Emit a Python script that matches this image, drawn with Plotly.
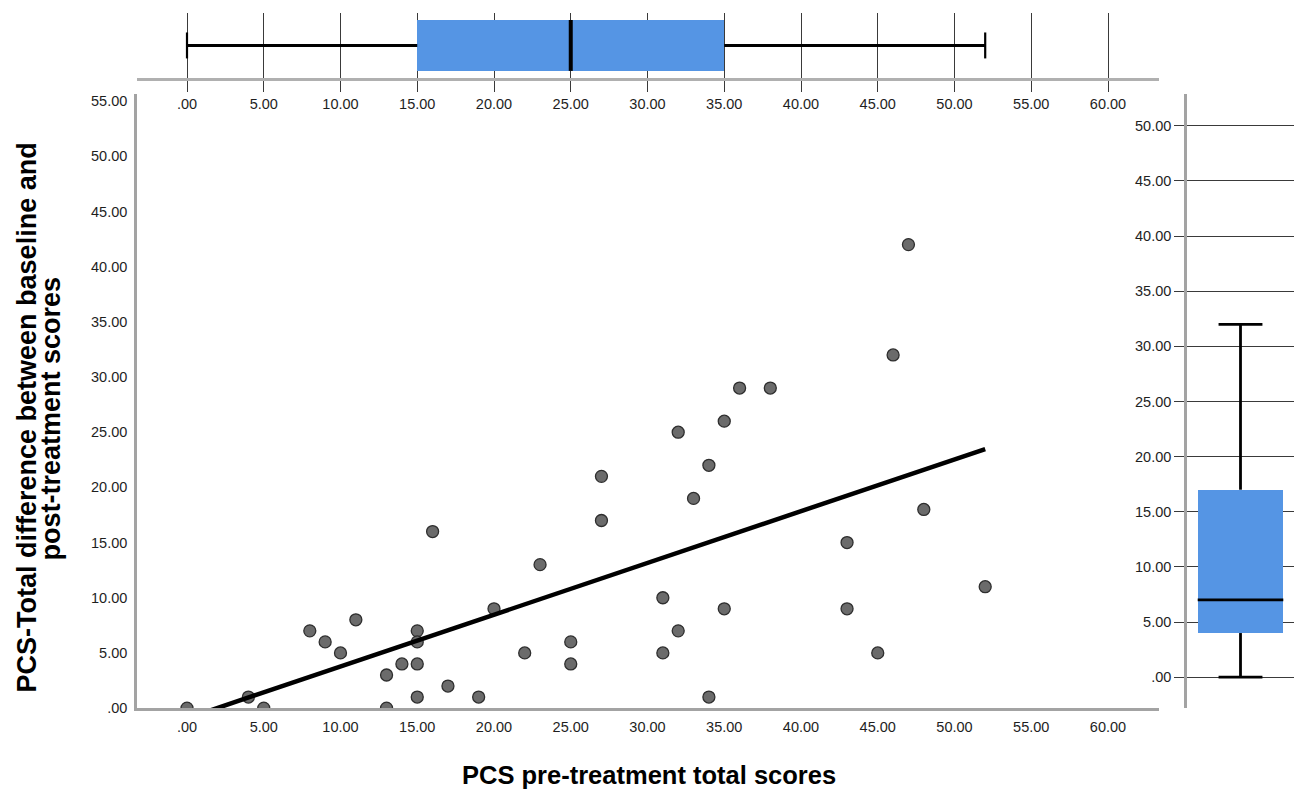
import numpy as np
import plotly.graph_objects as go

# ---------------- data ----------------
pre_scores = [0, 4, 5, 8, 9, 10, 11, 13, 13, 14, 15, 15, 15, 15, 16, 17, 19, 20, 22, 23,
              25, 25, 27, 27, 47, 46, 36, 38, 35, 32, 34, 33, 48, 43, 52, 31, 35, 43, 32, 31, 45, 34]
diff_scores = [0, 1, 0, 7, 6, 5, 8, 3, 0, 4, 7, 6, 4, 1, 16, 2, 1, 9, 5, 13,
               6, 4, 21, 17, 42, 32, 29, 29, 26, 25, 22, 19, 18, 15, 11, 10, 9, 9, 7, 5, 5, 1]

# box-plot summaries (SPSS style, whiskers without outliers)
x_box = dict(low=0, q1=15, med=25, q3=35, high=52)
y_box = dict(low=0, q1=4, med=7, q3=17, high=32)

x_ticks = list(range(0, 61, 5))
y_ticks_main = list(range(0, 56, 5))
y_ticks_side = list(range(0, 51, 5))


def fmt(v):
    s = f"{v:.2f}"
    return s[1:] if s.startswith("0") else s


# ---------------- geometry helpers ----------------
W, H = 1294, 792       # reference picture size (positions below are in its pixels)
FIG_H = 800            # rendered page height (photo is squeezed to 792)


def px(x):
    return x / W


def py(y):
    return 1 - y / H


BOX_COLOR = "#5595E4"
GRID = "#3a3a3a"
AXIS = "#a3a3a3"
FONT = "Liberation Sans, Arial, sans-serif"

fig = go.Figure()

# ---------------- main scatter ----------------
fig.add_trace(go.Scatter(
    x=pre_scores, y=diff_scores, mode="markers",
    marker=dict(size=12, color="#6b6b6b", line=dict(color="#2e2e2e", width=1.3)),
    xaxis="x", yaxis="y", hoverinfo="x+y"))

slope, intercept = np.polyfit(pre_scores, diff_scores, 1)
fx = np.array([min(pre_scores), max(pre_scores)], dtype=float)
fig.add_trace(go.Scatter(
    x=fx, y=slope * fx + intercept, mode="lines",
    line=dict(color="black", width=4.5), xaxis="x", yaxis="y", hoverinfo="skip"))

# ---------------- top box (x variable) ----------------
BOX_HALF = 0.392
CAP_HALF = 0.2
fig.add_trace(go.Bar(
    y=[0.5], x=[x_box["q3"] - x_box["q1"]], base=[x_box["q1"]], orientation="h",
    width=2 * BOX_HALF, marker=dict(color=BOX_COLOR, line=dict(width=0)),
    xaxis="x2", yaxis="y2", hoverinfo="skip"))
for a, b in [(x_box["low"], x_box["q1"]), (x_box["q3"], x_box["high"])]:
    fig.add_trace(go.Scatter(x=[a, b], y=[0.5, 0.5], mode="lines",
                             line=dict(color="black", width=3),
                             xaxis="x2", yaxis="y2", hoverinfo="skip"))
for v in [x_box["low"], x_box["high"]]:
    fig.add_trace(go.Scatter(x=[v, v], y=[0.5 - CAP_HALF, 0.5 + CAP_HALF], mode="lines",
                             line=dict(color="black", width=2.2),
                             xaxis="x2", yaxis="y2", hoverinfo="skip"))
fig.add_trace(go.Scatter(x=[x_box["med"], x_box["med"]], y=[0.5 - BOX_HALF, 0.5 + BOX_HALF],
                         mode="lines", line=dict(color="black", width=4),
                         xaxis="x2", yaxis="y2", hoverinfo="skip"))

# ---------------- right box (y variable) ----------------
RB_HALF = 0.4
RCAP_HALF = 0.205
fig.add_trace(go.Bar(
    x=[0.5], y=[y_box["q3"] - y_box["q1"]], base=[y_box["q1"]],
    width=2 * RB_HALF, marker=dict(color=BOX_COLOR, line=dict(width=0)),
    xaxis="x3", yaxis="y3", hoverinfo="skip"))
for a, b in [(y_box["low"], y_box["q1"]), (y_box["q3"], y_box["high"])]:
    fig.add_trace(go.Scatter(x=[0.5, 0.5], y=[a, b], mode="lines",
                             line=dict(color="black", width=2.8),
                             xaxis="x3", yaxis="y3", hoverinfo="skip"))
for v in [y_box["low"], y_box["high"]]:
    fig.add_trace(go.Scatter(x=[0.5 - RCAP_HALF, 0.5 + RCAP_HALF], y=[v, v], mode="lines",
                             line=dict(color="black", width=2.8),
                             xaxis="x3", yaxis="y3", hoverinfo="skip"))
fig.add_trace(go.Scatter(x=[0.5 - RB_HALF, 0.5 + RB_HALF], y=[y_box["med"], y_box["med"]],
                         mode="lines", line=dict(color="black", width=2.8),
                         xaxis="x3", yaxis="y3", hoverinfo="skip"))

# ---------------- axes ----------------
x_px0, x_unit = 187.0, 15.35     # pixel of x=0, pixels per unit
y_px0, y_unit = 708.0, 11.05     # pixel of y=0 (main), pixels per unit
xr = [(137 - x_px0) / x_unit, (1159 - x_px0) / x_unit]
tick_font = dict(family=FONT, size=14.5, color="#1e1e1e")

common_x = dict(range=xr, domain=[px(137), px(1159)], tickvals=x_ticks,
                ticktext=[fmt(v) for v in x_ticks], zeroline=False, tickfont=tick_font)

fig.update_layout(
    width=W, height=FIG_H, autosize=False, margin=dict(l=0, r=0, t=0, b=0),
    paper_bgcolor="white", plot_bgcolor="white", showlegend=False,
    font=dict(family=FONT, size=14, color="#262626"),
    bargap=0,
    xaxis=dict(**common_x, anchor="y", showline=True, linecolor=AXIS, linewidth=2.5,
               showgrid=False, ticks="", ticklabelstandoff=4),
    yaxis=dict(domain=[py(708), py(93)], range=[0, (708 - 93) / y_unit], anchor="x",
               tickvals=y_ticks_main, ticktext=[fmt(v) for v in y_ticks_main],
               showline=True, linecolor=AXIS, linewidth=2.5, showgrid=False,
               zeroline=False, ticks="", tickfont=tick_font, ticklabelstandoff=4),
    xaxis2=dict(**common_x, anchor="y2", showline=True, linecolor="#b0b0b0", linewidth=3,
                showgrid=True, gridcolor=GRID, gridwidth=1.4, ticks="outside",
                ticklen=11, tickcolor=GRID, tickwidth=1.4),
    yaxis2=dict(domain=[py(77), py(12)], range=[0, 1], anchor="x2", visible=False),
    xaxis3=dict(domain=[px(1187), 1], range=[0, 1], anchor="y3", visible=False),
    yaxis3=dict(domain=[py(708), py(93)],
                range=[(677 - 708) / 11.04, (677 - 93) / 11.04], anchor="x3",
                tickvals=y_ticks_side, ticktext=[fmt(v) for v in y_ticks_side],
                showline=True, linecolor=AXIS, linewidth=2.5, showgrid=True,
                gridcolor=GRID, gridwidth=1.4, zeroline=False, ticks="outside",
                ticklen=10, tickcolor=GRID, tickwidth=1.4, tickfont=tick_font),
)

xt_font = dict(family=FONT, size=25.5, color="black")
yt_font = dict(family=FONT, size=27, color="black")
fig.add_annotation(text="<b>PCS pre-treatment total scores</b>", x=px(649), y=py(775),
                   xref="paper", yref="paper", xanchor="center", yanchor="middle",
                   showarrow=False, font=xt_font)
fig.add_annotation(text="<b>PCS-Total difference between baseline and</b>", x=px(27), y=py(417),
                   xref="paper", yref="paper", xanchor="center", yanchor="middle",
                   textangle=-90, showarrow=False, font=yt_font)
fig.add_annotation(text="<b>post-treatment scores</b>", x=px(51), y=py(418),
                   xref="paper", yref="paper", xanchor="center", yanchor="middle",
                   textangle=-90, showarrow=False, font=yt_font)

fig.write_html("out.html",
               config={"displayModeBar": False, "responsive": False},
               post_script="document.body.style.margin='0';document.body.style.overflow='hidden';")
